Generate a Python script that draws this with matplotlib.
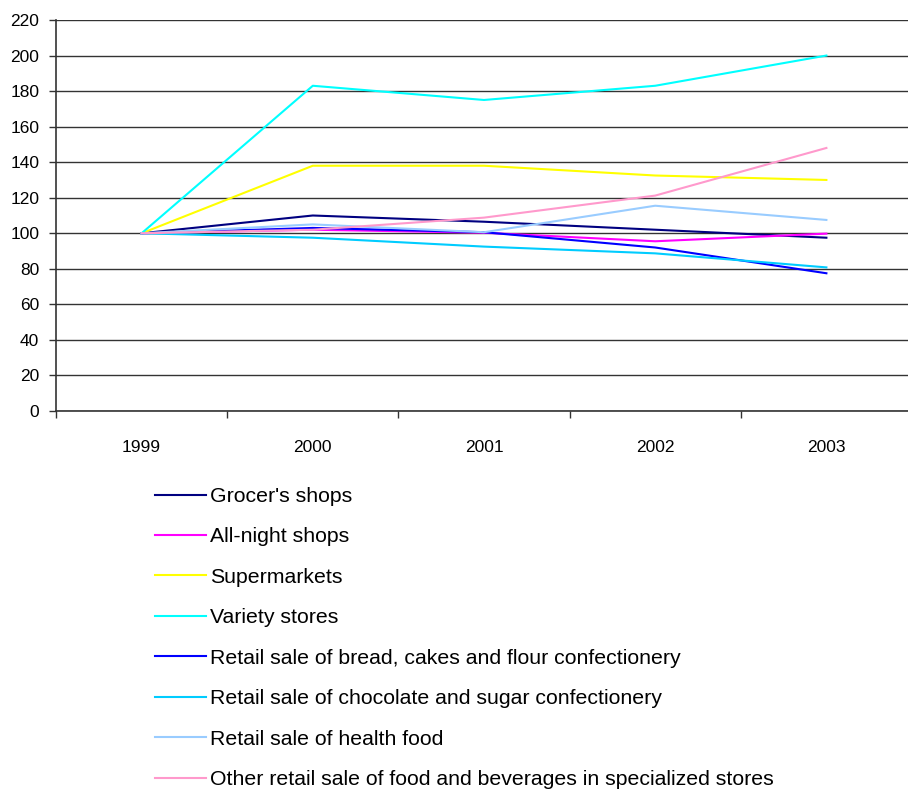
import matplotlib
matplotlib.use("Agg")
import matplotlib.pyplot as plt

plt.rcParams['font.family'] = ['Liberation Sans', 'DejaVu Sans']

years = ['1999', '2000', '2001', '2002', '2003']

grocers = [100, 110, 106.5, 102, 97.5]
all_night = [100, 102, 100.3, 95.5, 99.8]
supermarkets = [100, 138, 138, 132.5, 130]
variety = [100, 183, 175, 183, 200]
bread = [100, 103, 100.6, 92, 77.5]
chocolate = [100, 97.5, 92.5, 88.7, 80.8]
health_food = [100, 105, 100.6, 115.5, 107.5]
other_food = [100, 102, 108.8, 121.2, 148]

labels = ["Grocer's shops", "All-night shops", "Supermarkets", "Variety stores",
          "Retail sale of bread, cakes and flour confectionery",
          "Retail sale of chocolate and sugar confectionery",
          "Retail sale of health food",
          "Other retail sale of food and beverages in specialized stores"]
series = [grocers, all_night, supermarkets, variety, bread, chocolate,
          health_food, other_food]
colors = ['#000080', '#FF00FF', '#FFFF00', '#00FFFF', '#0000FF', '#00CCFF',
          '#99CCFF', '#FF99CC']

fig = plt.figure(figsize=(9.08, 7.94), dpi=100)
ax = fig.add_axes([56 / 908, 1 - 411 / 794, 856 / 908, 391 / 794])

x = list(range(len(years)))
for vals, col, lab in zip(series, colors, labels):
    ax.plot(x, vals, color=col, lw=1.5, label=lab)

ax.set_xlim(-0.5, 4.5)
ax.set_ylim(0, 220)
ax.set_yticks(range(0, 221, 20))
ax.set_xticks(x)
ax.set_xticklabels(years)
ax.set_xticks([i + 0.5 for i in range(-1, 5)], minor=True)
ax.tick_params(axis='x', which='major', length=0, pad=21, labelsize=12.5)
ax.tick_params(axis='x', which='minor', length=5, width=1, color='#333333')
ax.tick_params(axis='y', length=5, width=1, color='#333333', labelsize=12.5, pad=7)

ax.grid(axis='y', color='#333333', lw=1)
ax.set_axisbelow(True)
for side in ['top', 'right']:
    ax.spines[side].set_visible(False)
for side in ['left', 'bottom']:
    ax.spines[side].set_color('#333333')
    ax.spines[side].set_linewidth(1.2)

fig.legend(loc='upper left', bbox_to_anchor=(155 / 908, 1 - 487 / 794),
           frameon=False, fontsize=15.3, handlelength=2.38, handletextpad=0.2,
           labelspacing=1.01, borderaxespad=0, borderpad=0)

fig.savefig('out.png', dpi=100)
